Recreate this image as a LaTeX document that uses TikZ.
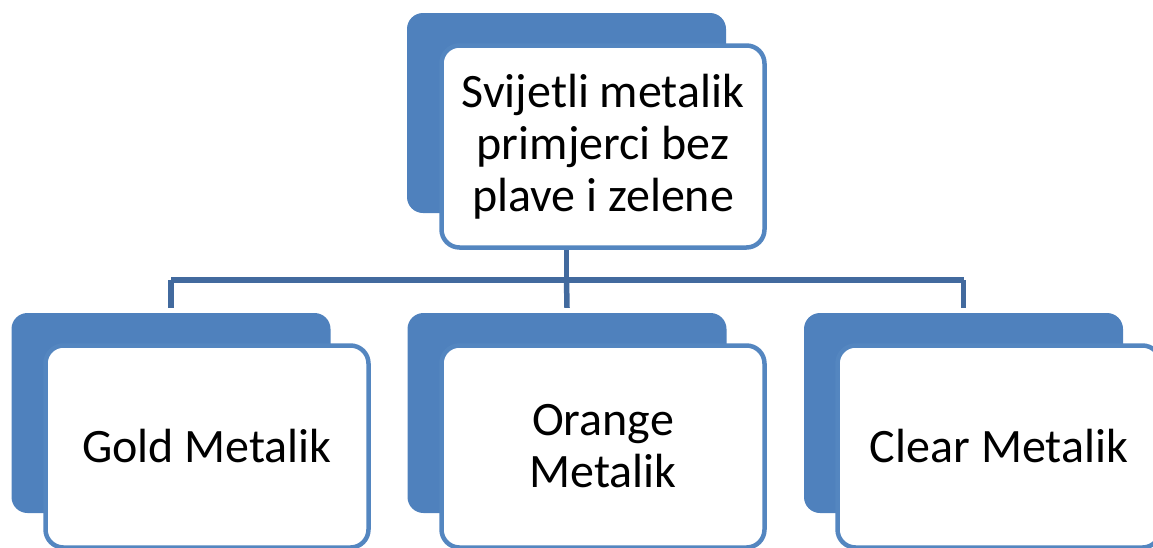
\documentclass[tikz,border=0pt]{standalone}
\usepackage{fontspec}
\setmainfont{Carlito}
\definecolor{backblue}{RGB}{79,129,189}
\definecolor{edgeblue}{RGB}{84,134,192}
\definecolor{linkblue}{RGB}{66,106,158}
\begin{document}
\begin{tikzpicture}[x=1pt,y=-1pt,
  backbox/.style={fill=backblue, rounded corners=16pt, minimum width=319pt, minimum height=200pt, inner sep=0pt},
  frontbox/.style={fill=white, draw=edgeblue, line width=4.5pt, rounded corners=18pt, minimum width=323pt, minimum height=202pt, inner sep=0pt, align=center, font=\fontsize{48pt}{52pt}\selectfont},
  link/.style={draw=linkblue, line width=5.5pt}]
\useasboundingbox (0,0) rectangle (1153,547);
\clip (0,0) rectangle (1153,547);
% top
\node[backbox] (tb) at (566.5,113) {};
\node[frontbox] (tf) at (603,146.5) {Svijetli metalik\\primjerci bez\\plave i zelene};
% bottom
\node[backbox] (lb) at (171,413) {};
\node[frontbox] (lf) at (207,446.5) {Gold Metalik};
\node[backbox] (mb) at (567,413) {};
\node[frontbox] (mf) at (603,446.5) {Orange\\Metalik};
\node[backbox] (rb) at (963.5,413) {};
\node[frontbox] (rf) at (999,446.5) {Clear Metalik};
% connectors
\coordinate (bus) at (567,280);
\draw[link] (tb.center |- tf.south) -- (tb.center |- bus);
\draw[link] (lb.center |- bus) -- (rb.center |- bus);
\draw[link] (lb.center |- bus) -- ([yshift=5pt]lb.north);
\draw[link] (tb.center |- bus) -- ([yshift=5pt]mb.north);
\draw[link] (rb.center |- bus) -- ([yshift=5pt]rb.north);
\end{tikzpicture}
\end{document}
